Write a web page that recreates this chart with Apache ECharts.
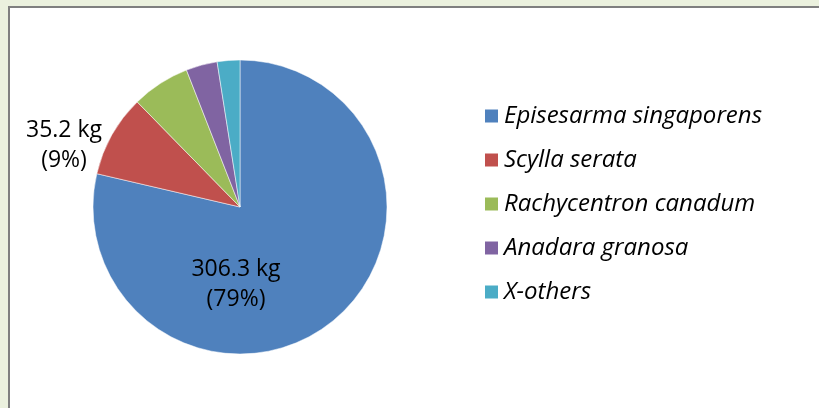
<!DOCTYPE html>
<html>
<head>
<meta charset="utf-8">
<script src="https://cdn.jsdelivr.net/npm/echarts@6/dist/echarts.min.js"></script>
<style>
  html, body { margin: 0; padding: 0; background: #ebf1de; }
  .frame {
    position: absolute; left: 8px; top: 6px; width: 900px; height: 500px;
    background: #fff; border-left: 2px solid #7f7f7f; border-top: 2px solid #7f7f7f;
  }
  #chart { position: absolute; left: 0; top: 0; width: 819px; height: 408px; }
</style>
</head>
<body>
<div class="frame"></div>
<div id="chart"></div>
<script>
const species = ['Episesarma singaporens', 'Scylla serata', 'Rachycentron canadum', 'Anadara granosa', 'X-others'];
const weightsKg = [306.3, 35.2, 24.9, 13.4, 9.7];
const sliceColors = ['#4f81bd', '#c0504d', '#9bbb59', '#8064a2', '#4bacc6'];
// only the two largest slices carry a label in the original
const shownLabels = { 0: [-4, 77], 1: [-176, -62] };

const chart = echarts.init(document.getElementById('chart'), null, { renderer: 'canvas' });

const pieData = species.map((name, i) => {
  const item = { name, value: weightsKg[i], itemStyle: { color: sliceColors[i] } };
  if (shownLabels[i]) {
    item.label = { show: true, position: 'center', offset: shownLabels[i] };
  }
  return item;
});

chart.setOption({
  animation: false,
  backgroundColor: 'transparent',
  legend: {
    orient: 'vertical',
    left: 483,
    top: 104,
    padding: 0,
    itemWidth: 15,
    itemHeight: 15,
    itemGap: 20,
    icon: 'rect',
    data: species,
    textStyle: {
      fontFamily: 'Open Sans',
      fontStyle: 'italic',
      fontSize: 24,
      lineHeight: 20,
      color: '#000'
    }
  },
  series: [
    {
      type: 'pie',
      center: [240, 207],
      radius: 147,
      startAngle: 90,
      clockwise: true,
      itemStyle: { borderColor: '#fff', borderWidth: 0.5 },
      label: {
        show: false,
        fontFamily: 'Open Sans',
        fontSize: 23,
        lineHeight: 30,
        color: '#000',
        align: 'center',
        formatter: (p) => `${p.value} kg\n(${Math.round(p.percent)}%)`
      },
      labelLine: { show: false },
      emphasis: { disabled: true },
      data: pieData
    }
  ]
});
</script>
</body>
</html>
